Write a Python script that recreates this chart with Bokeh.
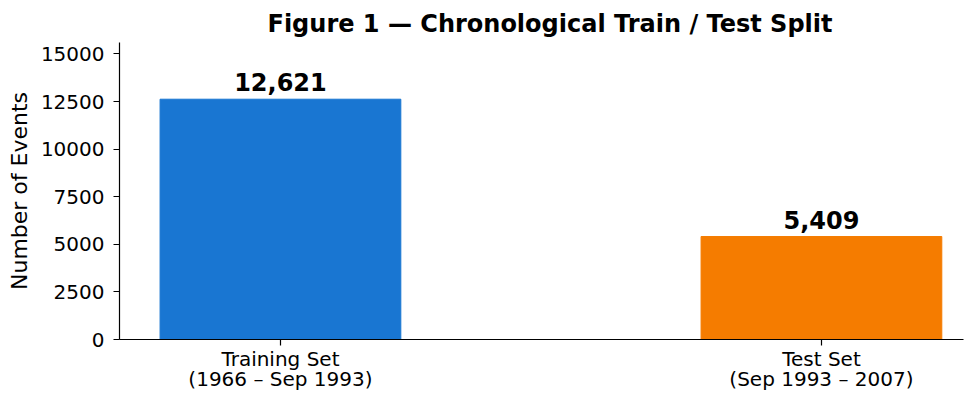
from bokeh.plotting import figure
from bokeh.models import ColumnDataSource, FixedTicker, Range1d, Title, LinearAxis
from bokeh.core.properties import value
from bokeh.embed import file_html
from bokeh.resources import INLINE

set_names = ["Training Set", "Test Set"]
set_periods = ["(1966 – Sep 1993)", "(Sep 1993 – 2007)"]
counts = [12621, 5409]
colors = ["#1976D2", "#F57C00"]
y_ticks = [0, 2500, 5000, 7500, 10000, 12500, 15000]

xs = list(range(len(set_names)))
src = ColumnDataSource(dict(
    x=xs, top=counts, color=colors,
    label=[f"{c:,}" for c in counts],
))

FONT = "DejaVu Sans"

p = figure(width=964, height=393, output_backend="svg", toolbar_location=None,
           x_range=Range1d(-0.2975, 1.2626), y_range=Range1d(0, 15600),
           min_border_left=119, min_border_right=1, min_border_top=42, min_border_bottom=50)
p.title = Title(text="Figure 1 — Chronological Train / Test Split", align="left",
                text_font=FONT, text_font_size="24px", text_font_style="bold",
                text_color="black", offset=148)
p.outline_line_color = None
p.xgrid.visible = False
p.ygrid.visible = False
p.background_fill_color = "white"
p.border_fill_color = "white"

p.vbar(x="x", top="top", width=0.445, bottom=0, color="color", source=src)
p.text(x="x", y="top", text="label", source=src, text_align="center",
       text_baseline="bottom", y_offset=-8, text_font=value(FONT),
       text_font_size="24px", text_font_style="bold", text_color="black")

for ax in (p.xaxis[0], p.yaxis[0]):
    ax.axis_line_color = "black"
    ax.axis_line_width = 1.2
    ax.major_tick_line_color = "black"
    ax.major_tick_line_width = 1.2
    ax.major_tick_out = 6
    ax.major_tick_in = 0
    ax.minor_tick_line_color = None
    ax.major_label_text_font = FONT
    ax.major_label_text_font_size = "20px"
    ax.major_label_text_color = "black"
    ax.major_label_standoff = 9

# first line of category labels on the main x axis
p.xaxis.ticker = FixedTicker(ticks=xs)
p.xaxis.major_label_overrides = {i: s for i, s in enumerate(set_names)}
p.xaxis.major_label_standoff = 1

# second line (period) on a bare axis stacked underneath
ax2 = LinearAxis(ticker=FixedTicker(ticks=xs),
                 major_label_overrides={i: s for i, s in enumerate(set_periods)},
                 axis_line_color=None, major_tick_line_color=None,
                 minor_tick_line_color=None, major_tick_out=0, major_tick_in=0,
                 major_label_standoff=-7, major_label_text_font=FONT,
                 major_label_text_font_size="20px", major_label_text_color="black")
p.add_layout(ax2, "below")

p.yaxis.ticker = FixedTicker(ticks=y_ticks)
p.yaxis.axis_label = "Number of Events"
p.yaxis.axis_label_text_font = FONT
p.yaxis.axis_label_text_font_size = "22px"
p.yaxis.axis_label_text_font_style = "normal"
p.yaxis.axis_label_text_color = "black"
p.yaxis.axis_label_standoff = 6

open("out.html", "w").write(file_html(p, INLINE))
